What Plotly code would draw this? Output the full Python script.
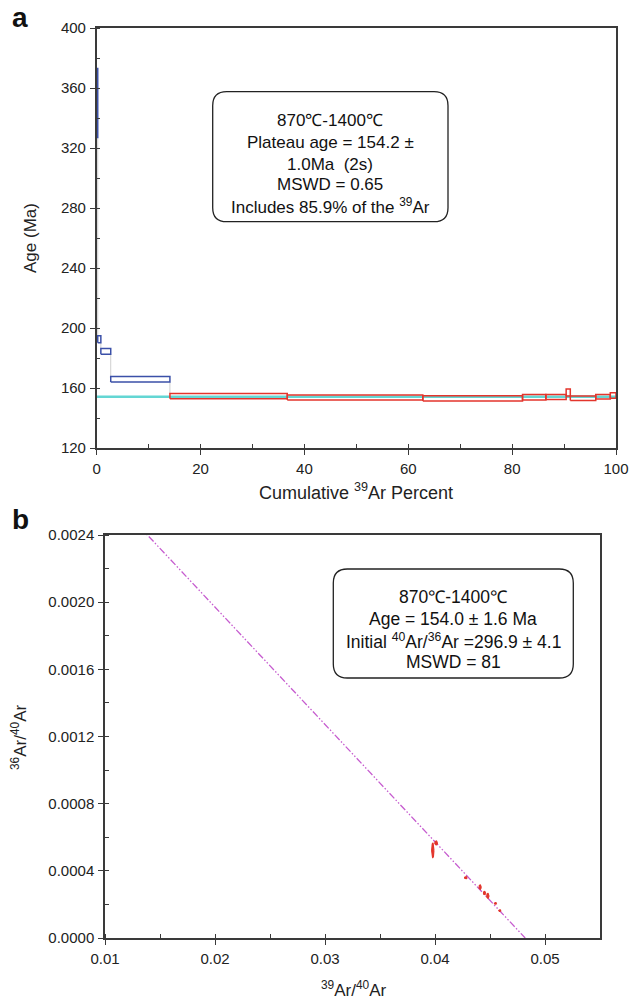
import plotly.graph_objects as go
import numpy as np

W, H = 630, 1005

# ---------------- data: (a) age spectrum ----------------
step_edges = [0, 0.2, 0.8, 2.7, 14.1, 36.7, 62.8, 82.0, 86.5, 90.4, 91.2, 96.1, 98.9, 100]
step_age = [350.0, 192.5, 184.4, 165.8, 154.6, 153.7, 153.1, 153.8, 154.0, 157.0, 153.2, 154.1, 155.0]
step_err = [23.0, 2.3, 1.9, 1.8, 1.8, 1.7, 1.7, 1.8, 1.6, 2.3, 1.5, 1.5, 1.9]
step_in_plateau = [False, False, False, False, True, True, True, True, True, True, True, True, True]
plateau_age = 154.2

# ---------------- data: (b) inverse isochron ----------------
iso_x = [0.0398, 0.0401, 0.0428, 0.0441, 0.0445, 0.0448, 0.0455, 0.0459]
iso_y = [0.000522, 0.000566, 0.000359, 0.000303, 0.000268, 0.000251, 0.000206, 0.000163]
iso_sx = [0.00010, 0.00012, 0.00012, 0.00010, 0.00010, 0.00010, 0.00010, 0.00010]
iso_sy = [0.000043, 0.000012, 0.000006, 0.000013, 0.000010, 0.000015, 0.000005, 0.000005]
initial_ratio = 296.9        # 40Ar/36Ar intercept
x_intercept = 0.0482         # 39Ar/40Ar intercept

ticks_a_x = [0, 20, 40, 60, 80, 100]
ticks_a_y = [120, 160, 200, 240, 280, 320, 360, 400]
ticks_b_x = [0.01, 0.02, 0.03, 0.04, 0.05]
ticks_b_y = [0.0, 0.0004, 0.0008, 0.0012, 0.0016, 0.0020, 0.0024]

FONT = "Liberation Sans, Arial, sans-serif"
AX = "#3a3a3a"
BLUE = "#3b50a8"
RED = "#e3352c"
CYAN = "#63d6d3"
MAG = "#c65ccf"


def fx(px):
    return px / W


def fy(py):
    return 1 - py / H


fig = go.Figure()

# plateau line
fig.add_trace(go.Scatter(x=[step_edges[0], step_edges[-1]], y=[plateau_age, plateau_age],
                         mode="lines", line=dict(color=CYAN, width=2.5),
                         hoverinfo="skip", showlegend=False, xaxis="x", yaxis="y"))

# connectors between successive steps
cx, cy = [], []
for i in range(len(step_age) - 1):
    lo1, hi1 = step_age[i] - step_err[i], step_age[i] + step_err[i]
    lo2, hi2 = step_age[i + 1] - step_err[i + 1], step_age[i + 1] + step_err[i + 1]
    xb = step_edges[i + 1]
    if lo1 > hi2:
        cx += [xb, xb, None]; cy += [lo1, hi2, None]
    elif lo2 > hi1:
        cx += [xb, xb, None]; cy += [hi1, lo2, None]
fig.add_trace(go.Scatter(x=cx, y=cy, mode="lines", line=dict(color="#cfcfcf", width=1),
                         hoverinfo="skip", showlegend=False, xaxis="x", yaxis="y"))

# step boxes
for flag, col in [(False, BLUE), (True, RED)]:
    bx, by = [], []
    for i in range(len(step_age)):
        if step_in_plateau[i] != flag:
            continue
        x0, x1 = step_edges[i], step_edges[i + 1]
        lo, hi = step_age[i] - step_err[i], step_age[i] + step_err[i]
        bx += [x0, x1, x1, x0, x0, None]
        by += [lo, lo, hi, hi, lo, None]
    fig.add_trace(go.Scatter(x=bx, y=by, mode="lines", line=dict(color=col, width=1.5),
                             hoverinfo="skip", showlegend=False, xaxis="x", yaxis="y"))

# isochron line
y_int = 1.0 / initial_ratio
lx = np.linspace(0.01, x_intercept, 200)
ly = y_int * (1 - lx / x_intercept)
fig.add_trace(go.Scatter(x=lx, y=ly, mode="lines",
                         line=dict(color=MAG, width=1.3, dash="7px,2px,1.5px,2px,1.5px,2px"),
                         hoverinfo="skip", showlegend=False, xaxis="x2", yaxis="y2"))

# error ellipses
t = np.linspace(0, 2 * np.pi, 40)
ex, ey = [], []
for x, y, sx, sy in zip(iso_x, iso_y, iso_sx, iso_sy):
    ex += list(x + sx * np.cos(t)) + [None]
    ey += list(y + sy * np.sin(t)) + [None]
fig.add_trace(go.Scatter(x=ex, y=ey, mode="lines", fill="toself", fillcolor=RED,
                         line=dict(color=RED, width=1.2), hoverinfo="skip",
                         showlegend=False, xaxis="x2", yaxis="y2"))

# dummy traces for overlay (inside tick) axes
fig.add_trace(go.Scatter(x=[None], y=[None], xaxis="x3", yaxis="y3", showlegend=False))
fig.add_trace(go.Scatter(x=[None], y=[None], xaxis="x4", yaxis="y4", showlegend=False))

a_dom_x = [fx(96.7), fx(616)]
a_dom_y = [fy(448), fy(28)]
b_dom_x = [fx(105), fx(600)]
b_dom_y = [fy(938), fy(535)]

tickfont = dict(family=FONT, size=15, color="#222")


def base_axis(dom, rng, tickvals, fmt, anchor, minor_dtick):
    return dict(domain=dom, range=rng, tickvals=tickvals, tickformat=fmt, anchor=anchor,
                automargin=False,
                showline=True, linecolor=AX, linewidth=1.5, mirror=True,
                ticks="outside", ticklen=5, tickwidth=1.3, tickcolor=AX,
                showgrid=False, zeroline=False, tickfont=tickfont, ticklabelstandoff=1,
                minor=dict(ticks="inside", ticklen=4, tickwidth=1.2, tickcolor=AX,
                           dtick=minor_dtick, showgrid=False))


def over_axis(rng, tickvals, overlay, anchor, side):
    return dict(range=rng, tickvals=tickvals, overlaying=overlay, anchor=anchor, side=side,
                automargin=False,
                showline=False, ticks="inside", ticklen=3, tickwidth=1.3, tickcolor=AX,
                showticklabels=False, showgrid=False, zeroline=False)


fig.update_layout(
    template="none",
    width=W, height=H, margin=dict(l=0, r=0, t=0, b=0, autoexpand=False),
    paper_bgcolor="white", plot_bgcolor="white", showlegend=False,
    xaxis=base_axis(a_dom_x, [0, 100], ticks_a_x, "d", "y", 10),
    yaxis=base_axis(a_dom_y, [120, 400], ticks_a_y, "d", "x", 20),
    xaxis2=base_axis(b_dom_x, [0.01, 0.055], ticks_b_x, ".2f", "y2", 0.005),
    yaxis2=base_axis(b_dom_y, [0, 0.0024], ticks_b_y, ".4f", "x2", 0.0002),
    xaxis3=over_axis([0, 100], ticks_a_x, "x", "y", "bottom"),
    yaxis3=over_axis([120, 400], ticks_a_y, "y", "x", "left"),
    xaxis4=over_axis([0.01, 0.055], ticks_b_x, "x2", "y2", "bottom"),
    yaxis4=over_axis([0, 0.0024], ticks_b_y, "y2", "x2", "left"),
)


def rounded_box(x0, y0, x1, y1, r):
    rx, ry = r / W, r / H
    X0, X1 = fx(x0), fx(x1)
    Y0, Y1 = fy(y0), fy(y1)  # Y0 top, Y1 bottom
    return (f"M {X0+rx},{Y0} L {X1-rx},{Y0} Q {X1},{Y0} {X1},{Y0-ry} "
            f"L {X1},{Y1+ry} Q {X1},{Y1} {X1-rx},{Y1} L {X0+rx},{Y1} "
            f"Q {X0},{Y1} {X0},{Y1+ry} L {X0},{Y0-ry} Q {X0},{Y0} {X0+rx},{Y0} Z")


fig.add_shape(type="path", xref="paper", yref="paper", path=rounded_box(212.7, 91.7, 448, 221.7, 14),
              line=dict(color="#222", width=1.3), fillcolor="white", layer="above")
fig.add_shape(type="path", xref="paper", yref="paper", path=rounded_box(333.3, 569, 573.3, 678, 14),
              line=dict(color="#222", width=1.3), fillcolor="white", layer="above")

box_font = dict(family=FONT, size=17, color="#111")
a_lines = ["870℃-1400℃", "Plateau age = 154.2 ±", "1.0Ma  (2s)", "MSWD = 0.65",
           "Includes 85.9% of the <sup>39</sup>Ar"]
a_ys = [120, 143, 164, 185, 206]
for txt, yy in zip(a_lines, a_ys):
    fig.add_annotation(x=fx(330.3), y=fy(yy), xref="paper", yref="paper", text=txt,
                       showarrow=False, font=box_font, xanchor="center", yanchor="middle")
b_lines = ["870℃-1400℃", "Age = 154.0 ± 1.6 Ma",
           "Initial <sup>40</sup>Ar/<sup>36</sup>Ar =296.9 ± 4.1", "MSWD = 81"]
b_ys = [597, 619, 641, 662]
for txt, yy in zip(b_lines, b_ys):
    fig.add_annotation(x=fx(453.3), y=fy(yy), xref="paper", yref="paper", text=txt,
                       showarrow=False, font=dict(family=FONT, size=17.5, color="#111"),
                       xanchor="center", yanchor="middle")

title_font = dict(family=FONT, size=17, color="#222")
fig.add_annotation(x=fx(31), y=fy(238), xref="paper", yref="paper", text="Age (Ma)",
                   textangle=-90, showarrow=False, font=title_font,
                   xanchor="center", yanchor="middle")
fig.add_annotation(x=fx(356), y=fy(491), xref="paper", yref="paper",
                   text="Cumulative <sup>39</sup>Ar Percent", showarrow=False,
                   font=dict(family=FONT, size=18, color="#222"),
                   xanchor="center", yanchor="middle")
fig.add_annotation(x=fx(19), y=fy(737), xref="paper", yref="paper",
                   text="<sup>36</sup>Ar/<sup>40</sup>Ar", textangle=-90, showarrow=False,
                   font=title_font, xanchor="center", yanchor="middle")
fig.add_annotation(x=fx(354), y=fy(989), xref="paper", yref="paper",
                   text="<sup>39</sup>Ar/<sup>40</sup>Ar", showarrow=False, font=title_font,
                   xanchor="center", yanchor="middle")

panel_font = dict(family="Liberation Sans, Arial, sans-serif", size=28, color="#111")
fig.add_annotation(x=fx(20), y=fy(18), xref="paper", yref="paper", text="<b>a</b>",
                   showarrow=False, font=panel_font, xanchor="center", yanchor="middle")
fig.add_annotation(x=fx(20), y=fy(519), xref="paper", yref="paper", text="<b>b</b>",
                   showarrow=False, font=panel_font, xanchor="center", yanchor="middle")

# remove the browser's default 8 px body margin so the figure fills the window exactly
fig.write_html("out.html",
               config={"displayModeBar": False},
               post_script="document.body.style.margin='0';"
                           "document.body.style.overflow='hidden';"
                           "document.documentElement.style.overflow='hidden';")
